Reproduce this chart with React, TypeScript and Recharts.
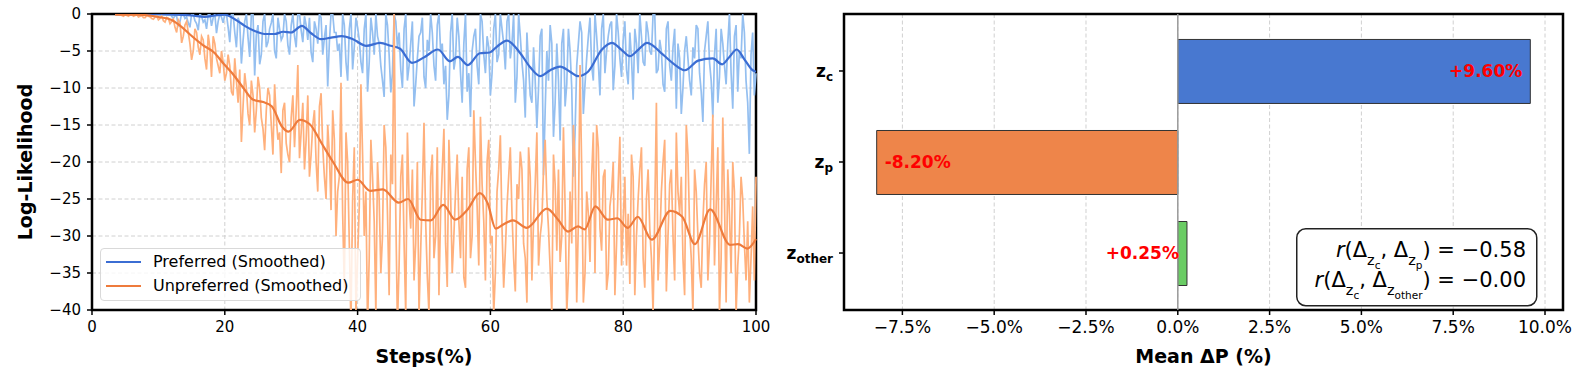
import React from "react";
import {
  LineChart, Line, XAxis, YAxis, CartesianGrid, ReferenceArea, ReferenceLine,
  BarChart, Bar, Cell, LabelList,
} from "recharts";

const FONT = '"DejaVu Sans", sans-serif';

// raw log-likelihood at steps 3.5, 4.0, ... 100
const rawPreferred = [
  0, -0.05, 0, -0.1, 0, -0.05, -0.1, 0, -0.05, -0.1, 0, -0.15, -0.05, -0.1, -0.2, 0, -0.1, -0.3,
  -0.2, -1.5, 0, -0.6, -1.2, 0, -0.9, -2.2, -0.3, -0.8, -0.1, -1.6, 0, -1.0, -0.4, 0,
  -1.8, 0, -2.5, -0.5, -6.7, -1.0, -3.2, 0, -8.3, -1.5, -5.5, 0, -3.8, -1.2, -5.0, -0.5, -3.5, 0, -4.2, -1.5,
  -3.0, 0, -2.2, -0.3, -3.5, -5.2, -1.0, -4.0, -0.5, -3.2, -9.8, 0, -2.5, -5.0, -8.5, -1.5, -9.0, 0, -4.5, -1.8,
  -6.5, -2.0, -10.5, -0.5, -5.5, -3.0, -7.0, -11.2, -1.5, -10.6, 0, -4.5, -7.5, -2.0, -9.0, -4.0, -12.5, -6.0, -2.5, -8.5,
  -3.5, 0, -7.0, -1.5, -5.0, -9.5, -14.3, -2.5, -7.5, -0.5, -8.0, -4.0, -10.5, -13.9, -3.0, -7.0, 0, -5.5, -3.0, -11.0,
  -2.0, -6.5, 0, -4.0, -1.0, -6.0, 0, -8.5, -3.0, -9.0, -2.5, -11.0, -4.5, -15.4, -3.0, -21.8, -5.0, -1.5, -16.6, -4.0,
  -17.1, -2.0, -9.5, -5.0, -22.0, -7.0, -1.0, -13.5, -6.0, -0.5, -9.0, -3.0, -11.0, 0, -5.0, -1.5, -10.3, 0, -6.0, -3.5,
  -7.5, -2.5, -11.6, -4.0, 0, -6.5, -1.0, -5.0, 0, -8.0, -3.5, -9.5, -2.0, -7.0, -4.5, -12.8, -6.0, -10.0, -3.0, -9.0,
  -4.5, -1.5, -8.0, -14.6, -3.0, -6.5, -14.0, -2.0, -8.5, -4.0, -9.5, 0, -12.8, -1.5, -5.0, 0, -9.0, -18.9, -2.5, -8.0,
];
// raw log-likelihood at the in-between steps 3.75, 4.25, ... 99.75
const rawPreferredMid = [
  -0.1, 0, -0.05, 0, -0.1, 0, -0.05, -0.1, 0, -0.05, -0.1, 0, -0.1, 0, -0.1, -0.2, 0,
  -0.6, -0.3, -1.0, 0, -0.4, -1.8, 0, -1.3, 0, -1.1, -2.0, 0, -0.5, -2.6, 0, -1.2,
  0, -3.8, 0, -4.5, -1.2, -3.6, 0, -5.8, 0, -2.8, -6.8, -1.0, -4.5, -2.0, 0, -6.0, -2.0, -3.0, -1.0, -5.5,
  0, -4.5, 0, -3.8, -1.5, -0.5, -6.5, -2.0, 0, -5.5, -1.5, -3.8, 0, -2.5, -4.0, 0, -6.5, -2.0, -7.5, -0.5,
  -3.5, -8.0, 0, -6.5, -2.5, 0, -4.0, -9.0, 0, -5.5, -8.0, -1.0, -2.5, -10.0, 0, -7.0, -1.0, -9.5, -3.0, -0.5,
  -10.0, -5.0, -2.5, -9.0, 0, -4.0, -7.0, -11.0, 0, -6.0, -3.0, -12.0, 0, -8.0, -5.0, -2.0, -9.5, -1.0, -8.0, -4.5,
  -8.0, 0, -5.5, -2.0, -7.5, 0, -4.0, -12.0, 0, -6.5, -14.0, -7.0, -12.0, -9.0, -10.0, -2.0, -13.0, -9.0, -4.0, -12.0,
  -9.0, -4.0, -12.5, -2.0, -10.0, -16.0, -4.0, -2.5, -9.5, -3.0, -7.0, 0, -6.5, -2.0, -8.0, -3.0, -1.0, -7.0, -2.5, -8.5,
  -1.0, -9.5, -6.0, -2.0, -8.0, -3.0, -7.0, -2.5, -5.5, 0, -7.5, -5.0, -10.5, -1.0, -9.0, -2.0, -4.0, -13.5, -5.0, -6.0,
  -11.0, -6.0, -2.0, -10.5, -5.0, -1.0, -9.0, -5.5, -12.0, -2.0, -7.0, -4.0, -8.0, -3.0, -10.5, -6.0, -2.5, -12.0, -5.5, -11.0,
];

const rawUnpreferred = [
  -0.1, 0, -0.2, -0.1, -0.3, -0.1, -0.2, -0.4, -0.2, -0.5, -0.3, -0.6, -0.4, -0.8, -0.3, -1.1, -0.6, -1.0,
  -1.8, -0.8, -3.9, -1.5, -2.5, -6.2, -2.0, -4.5, -3.0, -6.0, -2.8, -8.5, -4.0, -7.0, -5.0, -9.0,
  -5.5, -10.5, -6.0, -12.0, -17.3, -8.0, -13.5, -9.0, -16.0, -8.5, -14.0, -18.4, -10.0, -15.0, -9.5, -17.0, -21.5, -12.0, -19.0, -14.0,
  -18.0, -6.9, -16.0, -21.0, -11.0, -19.0, -13.0, -24.0, -10.7, -22.0, -15.0, -26.5, -17.0, -24.0, -9.3, -37.0, -20.0, -42.0, -18.0, -33.0,
  -9.5, -30.0, -42.0, -17.0, -28.0, -20.0, -35.0, -15.0, -27.0, -19.0, 0.5, -42.0, -22.0, -31.0, -16.0, -29.0, -36.0, -20.0, -32.0, -14.7,
  -35.5, -22.0, -33.0, -18.0, -27.0, -15.5, -36.9, -24.0, -30.0, -19.0, -33.0, -35.6, -21.0, -33.0, -13.0, -26.0, -13.9, -28.0, -20.0, -31.0,
  -40.5, -24.0, -16.4, -37.0, -26.0, -18.0, -33.0, -23.0, -18.6, -31.0, -39.0, -22.0, -28.0, -16.0, -30.0, -21.0, -25.0, -34.5, -19.0, -32.0,
  -33.5, -15.3, -40.5, -24.0, -15.0, -39.0, -6.9, -39.0, -24.0, -33.5, -16.0, -15.0, -29.0, -22.0, -37.3, -26.0, -20.0, -31.0, -16.6, -28.0,
  -34.0, -36.5, -22.0, -30.0, -21.0, -33.0, -25.0, -29.0, -40.5, -12.0, -31.0, -20.0, -37.5, -23.0, -30.0, -16.0, -27.0, -33.0, -15.0, -29.0,
  -40.5, -24.0, -35.0, -28.0, -20.0, -31.0, -13.6, -26.0, -40.5, -14.0, -39.0, -27.0, -20.0, -40.5, -30.0, -25.0, -36.0, -39.0, -26.0, -22.0,
];
const rawUnpreferredMid = [
  -0.05, -0.1, -0.3, -0.2, -0.1, -0.3, -0.1, -0.3, -0.5, -0.2, -0.4, -0.7, -0.3, -0.6, -0.9, -0.5, -1.3,
  -0.7, -2.5, -1.2, -3.0, -1.0, -4.0, -5.0, -2.5, -5.5, -3.5, -7.5, -4.5, -3.0, -6.0, -8.0, -6.5,
  -8.0, -7.0, -11.0, -9.0, -7.5, -12.5, -10.0, -15.0, -11.0, -13.0, -10.0, -15.5, -13.0, -11.0, -19.0, -14.0, -16.0, -13.0, -17.5, -20.0,
  -11.0, -13.0, -19.5, -12.0, -17.0, -22.0, -15.0, -20.0, -12.5, -18.0, -25.0, -19.0, -13.0, -30.0, -22.0, -27.0, -16.0, -31.0, -25.0, -40.5,
  -26.0, -19.0, -24.0, -33.0, -22.0, -40.5, -25.0, -30.0, -18.0, -38.0, -23.0, -27.0, -34.0, -19.0, -40.5, -25.0, -21.0, -31.0, -40.5, -24.0,
  -28.0, -40.5, -19.0, -30.0, -38.0, -21.0, -31.0, -17.0, -35.0, -24.0, -28.0, -22.0, -37.0, -18.0, -30.0, -20.0, -34.0, -23.0, -36.0, -17.0,
  -30.0, -35.0, -21.0, -29.0, -32.0, -22.0, -27.0, -37.5, -25.0, -21.0, -33.0, -18.0, -36.0, -23.0, -34.0, -28.0, -17.0, -29.0, -40.5, -23.0,
  -21.0, -30.0, -26.0, -35.0, -31.0, -20.0, -28.0, -21.0, -35.0, -27.0, -22.0, -35.0, -18.0, -32.0, -21.0, -35.0, -24.0, -38.0, -23.0, -34.0,
  -22.0, -27.0, -19.0, -38.0, -25.0, -18.0, -37.0, -21.0, -33.0, -27.0, -36.0, -24.0, -17.0, -30.0, -21.0, -36.0, -24.0, -22.0, -38.0, -19.0,
  -33.0, -21.0, -30.0, -37.0, -23.0, -36.0, -22.0, -34.0, -18.0, -33.0, -25.0, -21.0, -35.0, -24.0, -34.0, -22.0, -31.0, -28.0, -33.0, -36.0,
];
const RAW_START = 3.5;
const RAW_STEP = 0.5;

// smoothed curves, [step %, log-likelihood]
const smoothPreferred: [number, number][] = [
  [3.5, 0], [10, 0], [13, -0.1], [15, -0.2], [17, -0.4], [18.5, -0.2], [20, -0.1], [21.5, -0.7],
  [23, -1.6], [24.5, -2.3], [26, -2.7], [27.5, -2.7], [28.8, -2.4], [30, -2.5], [31.6, -1.6], [33, -2.6],
  [34.5, -3.4], [36, -3.2], [37.6, -3.0], [39.3, -3.4], [41.3, -4.3], [43.4, -3.9], [45, -4.3], [46.4, -4.7],
  [48.2, -6.6], [50.1, -5.8], [52.1, -4.8], [53.9, -6.4], [55.1, -5.8], [56.6, -6.9], [58.4, -5.3], [59.9, -5.2],
  [61, -4.4], [62.5, -3.6], [64.5, -5.3], [66, -7.2], [67.5, -8.4], [69, -7.6], [70.5, -7.1], [72, -7.8],
  [73.2, -8.4], [74.7, -7.8], [76.8, -4.8], [78.3, -3.9], [79.7, -4.8], [81, -5.7], [82.3, -4.8], [83.6, -3.9],
  [86, -5.5], [87.7, -6.8], [89.3, -7.6], [91.3, -6.3], [93.5, -6.0], [94.9, -6.8], [96, -5.8], [97.1, -4.8],
  [98.3, -6.2], [99.5, -7.6], [100, -7.8],
];
const smoothUnpreferred: [number, number][] = [
  [3.5, -0.1], [7, -0.1], [10, -0.4], [12, -0.8], [13.3, -1.6], [14.8, -2.8], [16.7, -4.2], [18.5, -5.3],
  [19.8, -6.7], [21.3, -8.2], [22.8, -10.0], [24.3, -11.6], [25.8, -11.9], [27.1, -12.5], [28.6, -15.2], [29.6, -15.9],
  [31.3, -14.3], [32.8, -14.9], [34.6, -17.5], [36.3, -20.0], [38.6, -22.8], [40, -22.4], [41.9, -23.9], [43.8, -23.7],
  [46.2, -25.5], [47.6, -25.0], [49.5, -27.8], [51, -27.9], [52.9, -25.8], [54.7, -27.8], [56.5, -26.5], [58.4, -24.2],
  [59.6, -25.6], [60.8, -29.0], [62, -28.4], [63.4, -27.9], [65.5, -28.9], [68.5, -26.3], [70.2, -27.8], [71.7, -29.4],
  [73.2, -28.7], [74.2, -29.1], [75.8, -26.0], [77.7, -27.8], [79.1, -27.6], [80.7, -28.9], [82.2, -27.4], [84.3, -30.5],
  [87.1, -26.6], [88.9, -27.4], [90.8, -31.1], [93.1, -26.4], [96.1, -31.2], [97.3, -31.1], [98.7, -31.7], [100, -30.4],
];

const stepTicks = [0, 20, 40, 60, 80, 100];
const llTicks = [0, -5, -10, -15, -20, -25, -30, -35, -40];

// right panel
const groups = ["z_c", "z_p", "z_other"];
const meanDeltaP = [9.6, -8.2, 0.25];
const barColors = ["#4878d0", "#ee854a", "#6acc64"];
const deltaTicks = [-7.5, -5, -2.5, 0, 2.5, 5, 7.5, 10];
const DELTA_DOMAIN = [-9.09, 10.49];
const GROUP_DOMAIN = [-0.626, 2.626];
const corrZp = "−0.58";
const corrZother = "−0.00";

const C_PREF = "#3b6dd3";
const C_PREF_RAW = "#94bff0";
const C_UNPREF = "#ee7b3c";
const C_UNPREF_RAW = "#ffb07c";

// interleave the on-grid and in-between readings
const rawRows: { x: number; pref: number; unpref: number }[] = [];
rawPreferred.forEach((v, i) => {
  rawRows.push({ x: RAW_START + i * RAW_STEP, pref: v, unpref: rawUnpreferred[i] });
  if (i < rawPreferredMid.length) {
    rawRows.push({ x: RAW_START + (i + 0.5) * RAW_STEP, pref: rawPreferredMid[i], unpref: rawUnpreferredMid[i] });
  }
});
const prefRows = smoothPreferred.map(([x, v]) => ({ x, v }));
const unprefRows = smoothUnpreferred.map(([x, v]) => ({ x, v }));
const barRows = groups.map((g, i) => ({ name: g, pos: i, value: meanDeltaP[i] }));

const minus = (s: string) => s.replace("-", "−");

const ZTick = (props: any) => {
  const { x, y, payload } = props;
  const name = groups[Math.round(payload.value)] ?? "";
  const sub = name.replace("z_", "");
  return (
    <text x={x} y={y} dy={6} textAnchor="end" fontFamily={FONT} fontWeight="bold" fontSize={17} fill="#000">
      z<tspan fontSize={12} dy={4}>{sub}</tspan>
    </text>
  );
};

const BarValueLabel = (props: any) => {
  const { x, y, width, height, value } = props;
  const left = Math.min(x, x + width);
  const right = Math.max(x, x + width);
  const pos = value >= 0;
  return (
    <text
      x={pos ? right - 8 : left + 8}
      y={y + height / 2 + 5.5}
      textAnchor={pos ? "end" : "start"}
      fontFamily={FONT}
      fontWeight="bold"
      fontSize={17}
      fill="#ff0000"
    >
      {(pos ? "+" : "") + value.toFixed(2) + "%"}
    </text>
  );
};

const axisTitle = { fontFamily: FONT, fontWeight: "bold", fontSize: 19, fill: "#000" };

const LikelihoodPanel = () => (
  <LineChart width={780} height={379} margin={{ top: 14, right: 24, bottom: 0, left: 0 }}>
    <CartesianGrid stroke="#d0d0d0" strokeDasharray="4 2.5" />
    <XAxis
      type="number"
      dataKey="x"
      domain={[0, 100]}
      ticks={stepTicks}
      height={69}
      axisLine={false}
      tickSize={5}
      tickMargin={6}
      tickLine={{ stroke: "#000", strokeWidth: 1.5 }}
      tick={{ fontFamily: FONT, fontSize: 15, fill: "#000" }}
      label={{ value: "Steps(%)", position: "insideBottom", offset: 16, style: axisTitle }}
    />
    <YAxis
      type="number"
      domain={[-40, 0]}
      ticks={llTicks}
      allowDataOverflow
      width={92}
      axisLine={false}
      tickSize={5}
      tickMargin={6}
      tickLine={{ stroke: "#000", strokeWidth: 1.5 }}
      tick={{ fontFamily: FONT, fontSize: 15, fill: "#000" }}
      tickFormatter={(v) => minus(String(v))}
      label={{ value: "Log-Likelihood", angle: -90, position: "insideLeft", offset: 25, style: { ...axisTitle, textAnchor: "middle" } }}
    />
    <Line data={rawRows} dataKey="pref" type="linear" stroke={C_PREF_RAW} strokeWidth={1.7} dot={false} legendType="none" isAnimationActive={false} />
    <Line data={prefRows} dataKey="v" name="Preferred (Smoothed)" type="monotone" stroke={C_PREF} strokeWidth={2.2} dot={false} isAnimationActive={false} />
    <Line data={rawRows} dataKey="unpref" type="linear" stroke={C_UNPREF_RAW} strokeWidth={1.7} dot={false} legendType="none" isAnimationActive={false} />
    <Line data={unprefRows} dataKey="v" name="Unpreferred (Smoothed)" type="monotone" stroke={C_UNPREF} strokeWidth={2.2} dot={false} isAnimationActive={false} />
    <ReferenceArea x1={0} x2={100} y1={-40} y2={0} fill="none" stroke="#000" strokeWidth={2.5} />
  </LineChart>
);

const DeltaPanel = () => (
  <BarChart width={796} height={379} data={barRows} layout="vertical" margin={{ top: 14, right: 13, bottom: 0, left: 0 }}>
    <CartesianGrid horizontal={false} stroke="#d0d0d0" strokeDasharray="4 2.5" />
    <XAxis
      type="number"
      domain={DELTA_DOMAIN}
      ticks={deltaTicks}
      allowDataOverflow
      height={69}
      axisLine={false}
      tickSize={5}
      tickMargin={6}
      tickLine={{ stroke: "#000", strokeWidth: 1.5 }}
      tick={{ fontFamily: FONT, fontSize: 17, fill: "#000" }}
      tickFormatter={(v) => minus(Number(v).toFixed(1)) + "%"}
      label={{ value: "Mean ΔP (%)", position: "insideBottom", offset: 16, style: axisTitle }}
    />
    <YAxis
      type="number"
      dataKey="pos"
      domain={GROUP_DOMAIN}
      ticks={[0, 1, 2]}
      allowDataOverflow
      width={64}
      axisLine={false}
      tickSize={5}
      tickMargin={6}
      tickLine={{ stroke: "#000", strokeWidth: 1.5 }}
      tick={<ZTick />}
    />
    <ReferenceLine x={0} stroke="#9a9a9a" strokeWidth={1.5} />
    <Bar dataKey="value" barSize={64} stroke="#333" strokeWidth={1} isAnimationActive={false}>
      {barRows.map((r, i) => (
        <Cell key={r.name} fill={barColors[i]} />
      ))}
      <LabelList dataKey="value" content={BarValueLabel} />
    </Bar>
    <ReferenceArea x1={DELTA_DOMAIN[0]} x2={DELTA_DOMAIN[1]} y1={GROUP_DOMAIN[0]} y2={GROUP_DOMAIN[1]} fill="none" stroke="#000" strokeWidth={2.5} />
  </BarChart>
);

const LegendBox = () => {
  const items = [
    { label: "Preferred (Smoothed)", color: C_PREF },
    { label: "Unpreferred (Smoothed)", color: C_UNPREF },
  ];
  return (
    <div
      style={{
        position: "absolute", left: 100, top: 248, width: 259, height: 51,
        border: "1px solid #d9d9d9", borderRadius: 4, background: "rgba(255,255,255,0.8)",
        fontFamily: FONT, fontSize: 16, color: "#000",
      }}
    >
      {items.map((it, i) => (
        <div key={it.label} style={{ position: "absolute", top: 1 + i * 24, left: 0, height: 24, width: "100%" }}>
          <div style={{ position: "absolute", left: 5, top: 11, width: 35, height: 2, background: it.color }} />
          <div style={{ position: "absolute", left: 52, top: 0, lineHeight: "24px", whiteSpace: "nowrap" }}>{it.label}</div>
        </div>
      ))}
    </div>
  );
};

const CorrBox = () => (
  <svg style={{ position: "absolute", left: 1296, top: 228 }} width={242} height={79}>
    <rect x={0.75} y={0.75} width={240} height={77} rx={9} fill="#fff" stroke="#222" strokeWidth={1.5} />
    <text x={230} y={29} textAnchor="end" fontFamily={FONT} fontSize={21} fill="#000">
      <tspan fontStyle="italic">r</tspan>(Δ<tspan fontSize={14.5} dy={8}>z</tspan>
      <tspan fontSize={10.5} dy={4}>c</tspan>
      <tspan dy={-12}>, Δ</tspan>
      <tspan fontSize={14.5} dy={8}>z</tspan>
      <tspan fontSize={10.5} dy={4}>p</tspan>
      <tspan dy={-12}>{`) = ${corrZp}`}</tspan>
    </text>
    <text x={230} y={59} textAnchor="end" fontFamily={FONT} fontSize={21} fill="#000">
      <tspan fontStyle="italic">r</tspan>(Δ<tspan fontSize={14.5} dy={8}>z</tspan>
      <tspan fontSize={10.5} dy={4}>c</tspan>
      <tspan dy={-12}>, Δ</tspan>
      <tspan fontSize={14.5} dy={8}>z</tspan>
      <tspan fontSize={10.5} dy={4}>other</tspan>
      <tspan dy={-12}>{`) = ${corrZother}`}</tspan>
    </text>
  </svg>
);

export default function App() {
  return (
    <div style={{ position: "relative", width: 1576, height: 379, background: "#fff", fontFamily: FONT }}>
      <style>{`body{margin:0}`}</style>
      <div style={{ position: "absolute", left: 0, top: 0 }}>
        <LikelihoodPanel />
      </div>
      <div style={{ position: "absolute", left: 780, top: 0 }}>
        <DeltaPanel />
      </div>
      <LegendBox />
      <CorrBox />
    </div>
  );
}
